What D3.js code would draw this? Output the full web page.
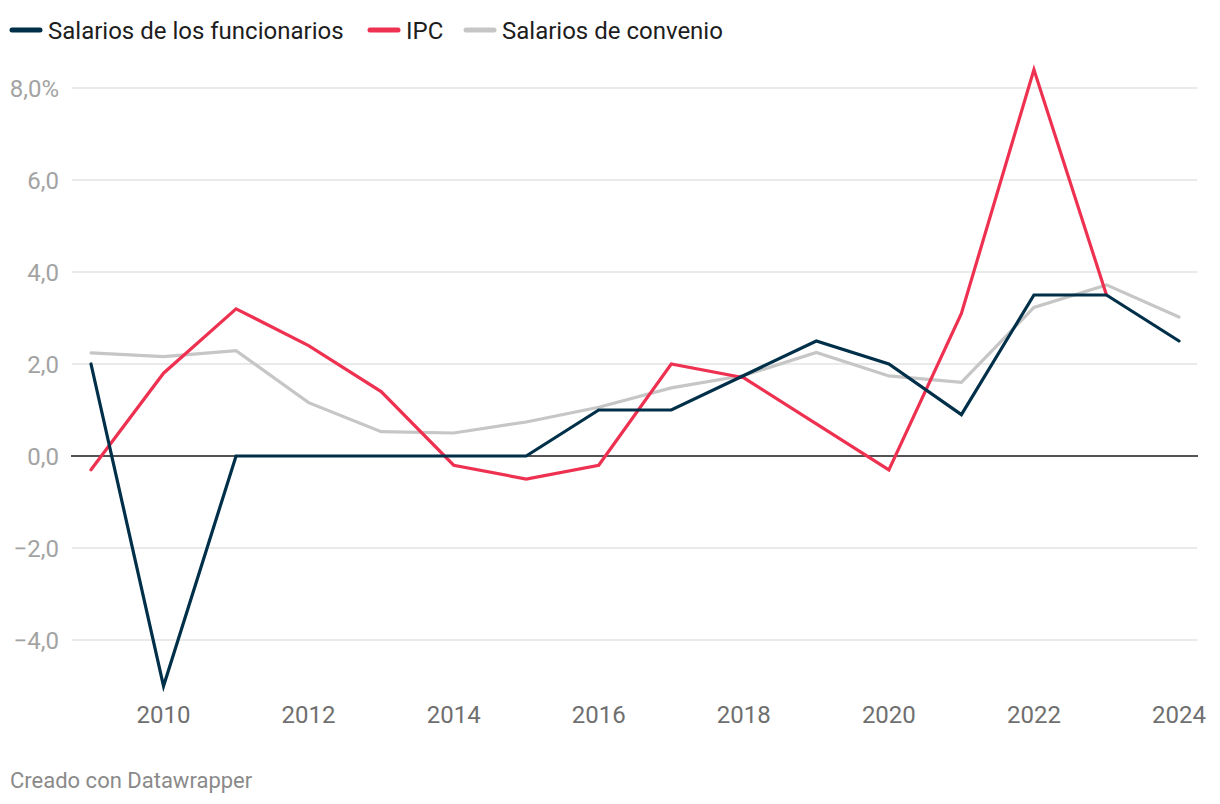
<!DOCTYPE html>
<html><head><meta charset="utf-8">
<script src="https://cdn.jsdelivr.net/npm/d3@7"></script>
<style>body{margin:0;background:#fff;font-family:Roboto,sans-serif;}</style>
</head><body><svg id="c" width="1220" height="804"></svg>
<script>
const years = d3.range(2009, 2025);
const funcionarios = [2.0, -5.0, 0, 0, 0, 0, 0, 1.0, 1.0, 1.75, 2.5, 2.0, 0.9, 3.5, 3.5, 2.5];
const ipc = [-0.3, 1.8, 3.2, 2.4, 1.4, -0.2, -0.5, -0.2, 2.0, 1.7, 0.7, -0.3, 3.1, 8.4, 3.5, null];
const convenio = [2.24, 2.16, 2.29, 1.16, 0.53, 0.5, 0.74, 1.06, 1.48, 1.75, 2.25, 1.74, 1.6, 3.23, 3.72, 3.02];
const yTicks = [-4, -2, 0, 2, 4, 6, 8];
const xTicks = [2010, 2012, 2014, 2016, 2018, 2020, 2022, 2024];
const seriesNames = ["Salarios de los funcionarios", "IPC", "Salarios de convenio"];
const colors = ["#003049", "#ee3150", "#c6c6c6"];

const svg = d3.select("#c");
const x = d3.scaleLinear().domain([2009, 2024]).range([91, 1179]);
const y = d3.scaleLinear().domain([0, 8]).range([456, 88]);

// grid
svg.append("g").selectAll("line").data(yTicks.filter(d => d !== 0)).join("line")
  .attr("x1", 72).attr("x2", 1197).attr("y1", d => y(d)).attr("y2", d => y(d))
  .attr("stroke", "#e3e3e3").attr("stroke-width", 1.5);

// y labels
svg.append("g").selectAll("text").data(yTicks).join("text")
  .attr("x", 59).attr("y", d => y(d) + 8.5).attr("text-anchor", "end")
  .attr("font-size", 24).attr("fill", "#a3a3a3")
  .text(d => (d === 8 ? "8,0%" : (d < 0 ? "\u2212" + Math.abs(d).toFixed(1) : d.toFixed(1)).replace(".", ",")));

// x labels
svg.append("g").selectAll("text").data(xTicks).join("text")
  .attr("x", d => x(d)).attr("y", 723).attr("text-anchor", "middle")
  .attr("font-size", 24).attr("fill", "#6f6f6f").text(d => d);

// zero line
svg.append("line").attr("x1", 71).attr("x2", 1198).attr("y1", y(0)).attr("y2", y(0))
  .attr("stroke", "#1a1a1a").attr("stroke-width", 1.6);

const line = d3.line().defined(d => d[1] !== null).x(d => x(d[0])).y(d => y(d[1]));
const data = [funcionarios, ipc, convenio];
const order = [2, 1, 0];
order.forEach(i => {
  svg.append("path").datum(years.map((yr, j) => [yr, data[i][j]]))
    .attr("d", line).attr("fill", "none").attr("stroke", colors[i])
    .attr("stroke-width", 3.2).attr("stroke-linejoin", "miter").attr("stroke-linecap", "round");
});

// legend
const legX = [12, 370, 466];
seriesNames.forEach((n, i) => {
  svg.append("line").attr("x1", legX[i]).attr("x2", legX[i] + 28).attr("y1", 30).attr("y2", 30)
    .attr("stroke", colors[i]).attr("stroke-width", 5).attr("stroke-linecap", "round");
  svg.append("text").attr("x", legX[i] + 36).attr("y", 38.5).attr("font-size", 24)
    .attr("fill", "#1d1d1d").text(n);
});

svg.append("text").attr("x", 10).attr("y", 788).attr("font-size", 22).attr("fill", "#8a8a8a")
  .text("Creado con Datawrapper");
</script></body></html>
